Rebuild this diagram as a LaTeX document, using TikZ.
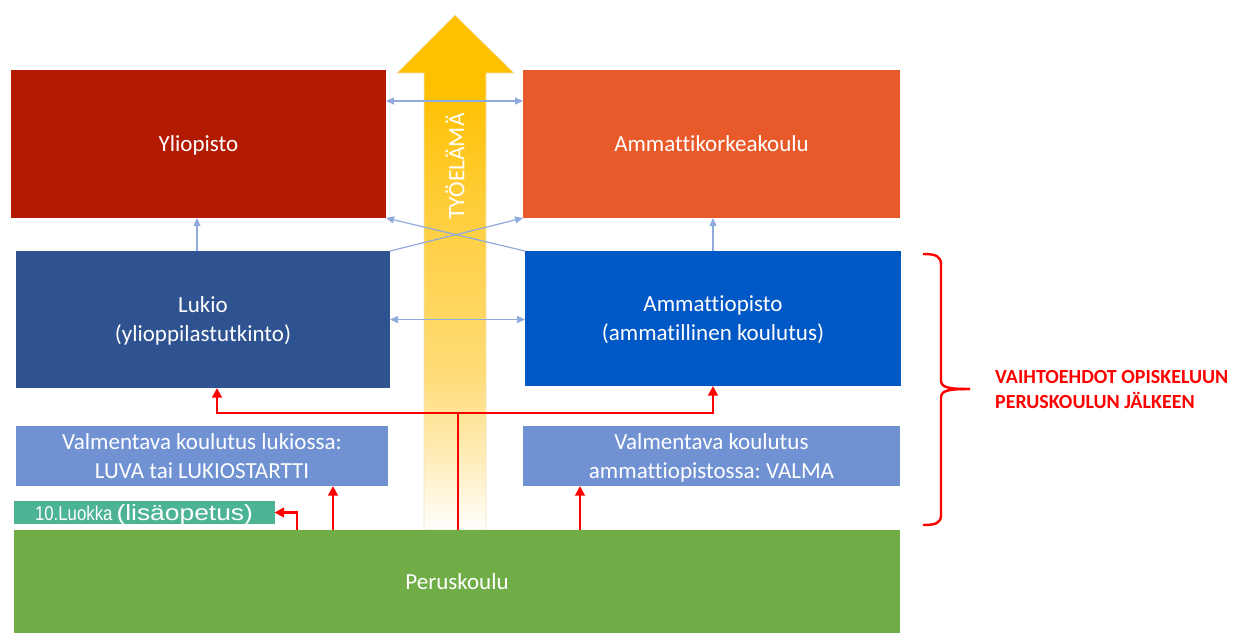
\documentclass[tikz,border=0pt]{standalone}
\usepackage{fontspec}
\setmainfont{Carlito}[Ligatures=NoCommon, RawFeature=-liga]
\newfontfamily\arialfont{Liberation Sans}
\usetikzlibrary{arrows.meta,calc}
\definecolor{cYO}{HTML}{B21A02}
\definecolor{cAMK}{HTML}{E95A2B}
\definecolor{cLUK}{HTML}{2F5290}
\definecolor{cAMO}{HTML}{0057C6}
\definecolor{cVAL}{HTML}{7092D2}
\definecolor{cLK}{HTML}{4CB395}
\definecolor{cPK}{HTML}{70AD47}
\definecolor{cBL}{HTML}{8FAADC}
\definecolor{cRD}{HTML}{FF0000}
\definecolor{ylTop}{HTML}{FFC000}
\definecolor{ylC}{HTML}{FFCF40}
\definecolor{ylB}{HTML}{FFDC78}
\definecolor{ylA}{HTML}{FFEFC2}
\definecolor{ylEdge}{HTML}{EFE2C0}
\pgfdeclareverticalshading{workshade}{100bp}{color(0bp)=(white); color(25bp)=(white); color(31bp)=(ylA); color(40bp)=(ylB); color(55bp)=(ylC); color(68bp)=(ylTop); color(100bp)=(ylTop)}
\frenchspacing
\begin{document}
\begin{tikzpicture}[x=1pt,y=-1pt,
  box/.style={rectangle, inner sep=0pt, outer sep=0pt, text=white, align=center, text depth=0pt, font=\fontsize{23}{29}\selectfont},
  bl/.style={draw=cBL, line width=1.2pt, -{Triangle[length=8pt,width=7pt]}},
  bll/.style={draw=cBL, line width=1.2pt, {Triangle[length=8pt,width=7pt]}-{Triangle[length=8pt,width=7pt]}},
  rd/.style={draw=cRD, line width=2.7pt, -{Triangle[length=9.5pt,width=9.5pt]}},
  rdd/.style={draw=cRD, line width=2.7pt, {Triangle[length=9.5pt,width=9.5pt]}-{Triangle[length=9.5pt,width=9.5pt]}},
  brace/.style={draw=cRD, line width=2.4pt}
]
\fill[white] (0,0) rectangle (1237,633);
\useasboundingbox (0,0) rectangle (1237,633);

% big arrow
\path[shading=workshade, draw=ylEdge, line width=0.6pt] (424,530) -- (424,73) -- (397,73) -- (455,15) -- (514,73) -- (486,73) -- (486,530) -- cycle;
\node[rotate=90, text=white, font=\fontsize{23.5}{26}\selectfont, inner sep=0pt] (tyo) at (455,166.5) {TYÖELÄMÄ};

% boxes
\node[box, fill=cYO, minimum width=375pt, minimum height=148pt] (yo) at (198.5,144) {Yliopisto};
\node[box, fill=cAMK, minimum width=377pt, minimum height=148pt] (amk) at (711.5,144) {Ammattikorkeakoulu};
\node[box, fill=cLUK, minimum width=374pt, minimum height=137pt] (lukio) at (203,319.5) {Lukio\\(ylioppilastutkinto)};
\node[box, fill=cAMO, minimum width=376pt, minimum height=135pt] (amo) at (713,318.5) {Ammattiopisto\\(ammatillinen koulutus)};
\node[box, fill=cVAL, minimum width=372pt, minimum height=60pt] (val1) at (202,456) {Valmentava koulutus lukiossa:\\LUVA tai LUKIOSTARTTI};
\node[box, fill=cVAL, minimum width=377pt, minimum height=60pt] (val2) at (711.5,456) {Valmentava koulutus\\ammattiopistossa: VALMA};
\node[box, fill=cLK, minimum width=261pt, minimum height=23pt, font=\arialfont\fontsize{20}{22}\selectfont] (lk10) at (144,512.5) {\scalebox{0.84}[1]{\fontsize{20}{22}\selectfont 10.Luokka}\hspace{4pt}\scalebox{1.2}[1]{\fontsize{22}{24}\selectfont(lisäopetus)}};
\node[box, fill=cPK, minimum width=886pt, minimum height=103pt] (pk) at (457,581.5) {Peruskoulu};

% blue connectors
\draw[bll] ([yshift=43pt]yo.east) -- ([yshift=43pt]amk.west);
\draw[bl] ([xshift=-6pt]lukio.north) -- ([xshift=-6pt]lukio.north |- yo.south);
\draw[bl] (amo.north) -- (amo.north |- amk.south);
\draw[bll] (lukio.east) -- (lukio.east -| amo.west);
\draw[bl] (lukio.north east) -- (amk.south west);
\draw[bl] (amo.north west) -- (yo.south east);

% red connectors
\coordinate (split) at (458,413);
\draw[rdd] ([xshift=14pt]lukio.south) |- (split) -| (amo.south);
\draw[draw=cRD, line width=2.7pt] ([xshift=1pt]pk.north) -- (split);
\draw[rd] ([xshift=131pt]val1.south |- pk.north) -- ([xshift=131pt]val1.south);
\draw[rd] ([xshift=-131.5pt]val2.south |- pk.north) -- ([xshift=-131.5pt]val2.south);
\draw[rd] ([xshift=22.5pt]lk10.east |- pk.north) |- (lk10.east);

% brace
\draw[brace] (923,254) .. controls (936,254) and (941,256) .. (941,265) -- (941,380) .. controls (941,387) and (946,389) .. (970,389);
\draw[brace] (970,389) .. controls (946,389) and (941,391) .. (941,398) -- (941,515) .. controls (941,523) and (936,525) .. (923,525);
\node[anchor=west, align=left, text=cRD, inner sep=0pt, font=\bfseries\fontsize{20}{25}\selectfont] (lbl) at (995,389.5) {VAIHTOEHDOT OPISKELUUN\\PERUSKOULUN JÄLKEEN};
\end{tikzpicture}
\end{document}
